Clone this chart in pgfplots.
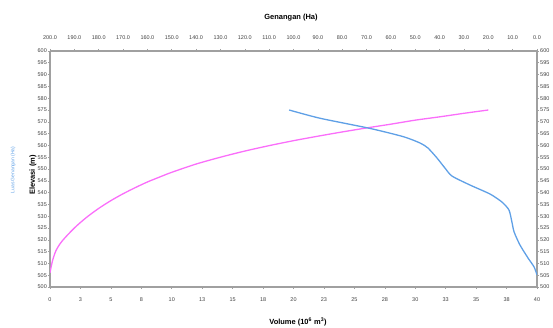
\documentclass[border=0pt]{standalone}
\usepackage{fontspec}
\setmainfont{Liberation Sans}
\usepackage{pgfplots}
\pgfplotsset{compat=1.18}
\definecolor{pinkc}{RGB}{250,110,250}
\definecolor{bluec}{RGB}{95,160,230}
\definecolor{framec}{RGB}{160,160,160}
\pgfplotstableread{
V E
0.0 506.0
0.2 511.0
0.5 515.5
1.0 519.5
2.0 525.0
3.0 529.5
4.0 533.3
5.0 536.6
6.0 539.5
7.0 542.1
8.0 544.5
9.0 546.6
10.0 548.6
12.0 552.1
14.0 555.0
16.0 557.6
18.0 559.9
20.0 562.0
22.0 563.9
24.0 565.7
26.0 567.4
28.0 569.0
30.0 570.7
32.0 572.1
34.0 573.6
36.0 575.0
}\volumedata
\pgfplotstableread{
A E
101.8 575.0
89.1 571.5
68.6 567.2
54.9 563.7
48.0 561.0
44.8 558.9
41.1 554.7
37.8 550.4
34.9 547.0
27.5 543.2
19.3 539.4
14.4 536.0
11.5 532.6
10.3 527.5
9.4 523.3
7.0 517.8
3.7 512.3
1.2 508.5
0.0 505.1
}\areadata
\begin{document}
\begin{tikzpicture}[x=1bp,y=1bp]
\pgfplotsset{
 common/.style={
  at={(50bp,40bp)}, anchor=south west,
  scale only axis, width=487bp, height=236bp,
  ymin=500, ymax=600, ytick={500,505,...,600},
  tick align=outside, major tick length=2bp,
  tick style={framec, line width=0.6bp},
  axis line style={framec, line width=1.2bp},
  ticklabel style={font=\fontsize{5.5}{6}\selectfont, text=black!75},
  yticklabel style={inner sep=1bp},
  /pgf/number format/assume math mode=true,
  /pgf/number format/1000 sep={},
 }
}
\begin{axis}[common,
  xmin=0, xmax=40,
  axis x line*=bottom, axis y line*=left,
  xtick={0,2.5,...,40},
  xticklabels={0,3,5,8,10,13,15,18,20,23,25,28,30,33,35,38,40},
  xticklabel style={yshift=-5.5bp},
]
\addplot[pinkc, line width=1.3bp, smooth, tension=0.5] table[x=V,y=E]{\volumedata};
\end{axis}
\begin{axis}[common,
  xmin=0, xmax=200, x dir=reverse,
  axis x line*=top, axis y line*=right,
  xtick={0,10,...,200},
  xticklabels={0.0,10.0,20.0,30.0,40.0,50.0,60.0,70.0,80.0,90.0,100.0,110.0,120.0,130.0,140.0,150.0,160.0,170.0,180.0,190.0,200.0},
  xticklabel style={yshift=5.5bp},
]
\addplot[bluec, line width=1.3bp, smooth, tension=0.4] table[x=A,y=E]{\areadata};
\end{axis}
\node[font=\bfseries\fontsize{7.5}{8}\selectfont] at (298,5) {Volume (10\textsuperscript{6} m\textsuperscript{3})};
\node[font=\bfseries\fontsize{7.5}{8}\selectfont] at (291,309) {Genangan (Ha)};
\node[font=\bfseries\fontsize{7.5}{8}\selectfont, rotate=90] at (33,152) {Elevasi (m)};
\node[font=\fontsize{5}{6}\selectfont, rotate=90, text=bluec] at (13,157) {Luas Genangan (Ha)};
\pgfresetboundingbox
\path[use as bounding box] (0,0) rectangle (553,327);
\end{tikzpicture}
\end{document}
